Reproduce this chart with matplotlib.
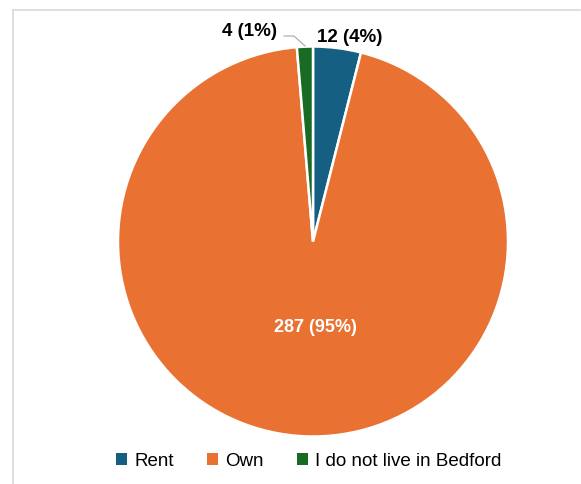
import matplotlib.pyplot as plt
from matplotlib.patches import Patch

# ======================================
# Data
# ======================================

categories = ["Rent", "Own", "I do not live in Bedford"]
counts = [12, 287, 4]
colors = ["#156082", "#E97132", "#196B24"]

total = sum(counts)
pct = [round(c / total * 100) for c in counts]
labels = [f"{c} ({p}%)" for c, p in zip(counts, pct)]

plt.rcParams['font.family'] = ['Liberation Sans', 'DejaVu Sans']

# ======================================
# Figure in pixel coordinates
# ======================================

W, H = 581, 484
fig = plt.figure(figsize=(W / 100, H / 100), dpi=100)
ax = fig.add_axes([0, 0, 1, 1])

cx, cy, r = 313, H - 241.5, 195
wedges, _ = ax.pie(counts, colors=colors, startangle=90, counterclock=False,
                   center=(cx, cy), radius=r,
                   wedgeprops=dict(edgecolor="white", linewidth=1.8))
ax.set_xlim(0, W)
ax.set_ylim(0, H)
ax.set_aspect("equal")
ax.axis("off")

# chart frame (only top and left visible)
ax.plot([12.5, 12.5], [0, H - 9.5], color="#D9D9D9", lw=1.2)
ax.plot([12.5, W - 1], [H - 9.5, H - 9.5], color="#D9D9D9", lw=1.2)

# data labels
ax.text(350, H - 37, labels[0], ha="center", va="center",
        fontsize=13.5, fontweight="bold", color="black")
ax.text(cx + 2, H - 327, labels[1], ha="center", va="center",
        fontsize=13, fontweight="bold", color="white")
ax.text(250, H - 32, labels[2], ha="center", va="center",
        fontsize=13.5, fontweight="bold", color="black")
ax.plot([284, 294, 305], [H - 36, H - 36, H - 46], color="#A6A6A6", lw=0.8)

# legend
handles = [Patch(facecolor=c, edgecolor="none") for c in colors]
ax.legend(handles, categories, loc="center", bbox_to_anchor=(309 / W, 1 - 461 / H),
          ncol=3, frameon=False, fontsize=13.5, handlelength=0.55, handleheight=0.55,
          handletextpad=0.4, columnspacing=1.8)

fig.savefig("out.png", dpi=100)
